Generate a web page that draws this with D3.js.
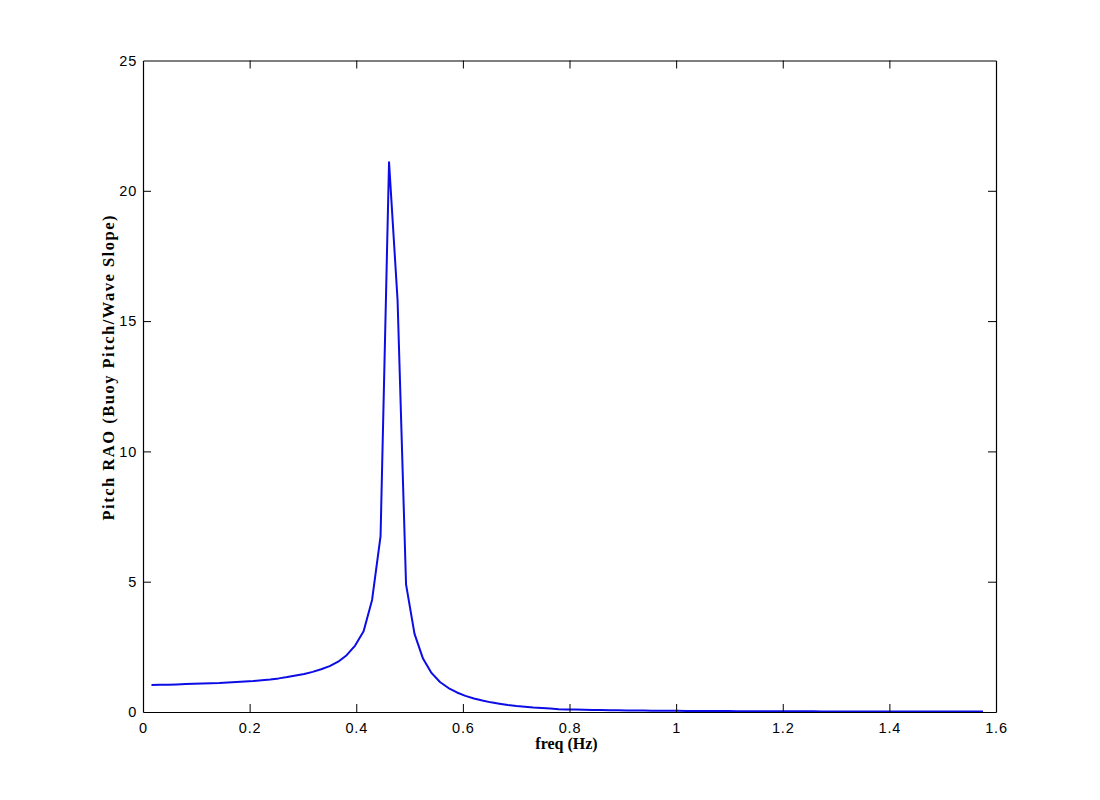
<!DOCTYPE html>
<html>
<head>
<meta charset="utf-8">
<script src="https://cdn.jsdelivr.net/npm/d3@7"></script>
<style>
  html, body { margin: 0; padding: 0; background: #fff; }
  svg { display: block; }
</style>
</head>
<body>
<svg id="chart" width="1100" height="800"></svg>
<script>
// ---- data ----
const freqHz = [
  0.0159,0.0318,0.0477,0.0637,0.0796,0.0955,0.1114,0.1273,0.1432,0.1592,
  0.1751,0.1910,0.2069,0.2228,0.2387,0.2546,0.2706,0.2865,0.3024,0.3183,
  0.3342,0.3501,0.3661,0.3820,0.3979,0.4138,0.4297,0.4456,0.4615,0.4775,
  0.4934,0.5093,0.5252,0.5411,0.5570,0.5730,0.5889,0.6048,0.6207,0.6366,
  0.6525,0.6685,0.6844,0.7003,0.7162,0.7321,0.7480,0.7639,0.7799,0.7958,
  0.8117,0.8276,0.8435,0.8594,0.8754,0.8913,0.9072,0.9231,0.9390,0.9549,
  0.9708,0.9868,1.0027,1.0186,1.0345,1.0504,1.0663,1.0823,1.0982,1.1141,
  1.1300,1.1459,1.1618,1.1777,1.1937,1.2096,1.2255,1.2414,1.2573,1.2732,
  1.2892,1.3051,1.3210,1.3369,1.3528,1.3687,1.3846,1.4006,1.4165,1.4324,
  1.4483,1.4642,1.4801,1.4961,1.5120,1.5279,1.5438,1.5597,1.5756
];
const pitchRAO = [
  1.040,1.045,1.050,1.060,1.070,1.080,1.090,1.100,1.110,1.130,
  1.150,1.170,1.190,1.220,1.250,1.290,1.340,1.400,1.460,1.540,
  1.640,1.760,1.930,2.180,2.550,3.100,4.300,6.750,21.10,15.80,
  4.900,3.000,2.050,1.500,1.150,0.920,0.750,0.620,0.520,0.440,
  0.370,0.320,0.270,0.230,0.200,0.170,0.150,0.130,0.110,0.100,
  0.093,0.086,0.080,0.075,0.070,0.066,0.062,0.058,0.055,0.052,
  0.049,0.047,0.045,0.043,0.041,0.039,0.037,0.036,0.034,0.033,
  0.032,0.031,0.030,0.029,0.028,0.027,0.026,0.025,0.025,0.024,
  0.023,0.023,0.022,0.021,0.021,0.020,0.020,0.019,0.019,0.018,
  0.018,0.017,0.017,0.017,0.016,0.016,0.015,0.015,0.015
];
const xTicks = [0, 0.2, 0.4, 0.6, 0.8, 1, 1.2, 1.4, 1.6];
const yTicks = [0, 5, 10, 15, 20, 25];
const xLabel = "freq (Hz)";
const yLabel = "Pitch RAO (Buoy Pitch/Wave Slope)";

(function () {
  // ---- layout ----
  const L = 143, R = 996, T = 60.5, B = 712;
  const svg = d3.select("#chart");
  const x = d3.scaleLinear().domain([0, 1.6]).range([L, R]);
  const y = d3.scaleLinear().domain([0, 25]).range([B, T]);
  const tickLen = 8;
  const tickFont = "'Liberation Sans', Arial, sans-serif";
  const labelFont = "'Liberation Serif', 'Times New Roman', serif";

  // curve
  const pts = freqHz.map((f, i) => [f, pitchRAO[i]]);
  svg.append("path")
    .datum(pts)
    .attr("fill", "none")
    .attr("stroke", "#0c0ce6")
    .attr("stroke-width", 2)
    .attr("stroke-linejoin", "round")
    .attr("d", d3.line().x(d => x(d[0])).y(d => y(d[1])));

  // axes (MATLAB box style, inward ticks on all sides)
  const fmt = d => String(d);
  const gBottom = svg.append("g").attr("transform", `translate(0,${B})`)
    .call(d3.axisBottom(x).tickValues(xTicks).tickFormat(fmt).tickSizeInner(-tickLen).tickSizeOuter(0).tickPadding(11));
  const gTop = svg.append("g").attr("transform", `translate(0,${T})`)
    .call(d3.axisTop(x).tickValues(xTicks).tickFormat("").tickSizeInner(-tickLen).tickSizeOuter(0));
  const gLeft = svg.append("g").attr("transform", `translate(${L},0)`)
    .call(d3.axisLeft(y).tickValues(yTicks).tickFormat(fmt).tickSizeInner(-tickLen).tickSizeOuter(0).tickPadding(6));
  const gRight = svg.append("g").attr("transform", `translate(${R},0)`)
    .call(d3.axisRight(y).tickValues(yTicks).tickFormat("").tickSizeInner(-tickLen).tickSizeOuter(0));

  [gBottom, gTop, gLeft, gRight].forEach(g => {
    g.selectAll(".domain").attr("stroke", "#000").attr("stroke-width", 1.2);
    g.selectAll(".tick line").attr("stroke", "#000").attr("stroke-width", 1);
    g.selectAll(".tick text")
      .attr("fill", "#000")
      .style("font-family", tickFont)
      .style("font-size", "14.5px")
      .style("letter-spacing", "0.8px");
  });
  gBottom.selectAll(".tick line").filter(d => d === 0 || d === 1.6).remove();
  gTop.selectAll(".tick line").filter(d => d === 0 || d === 1.6).remove();
  gLeft.selectAll(".tick line").filter(d => d === 0 || d === 25).remove();
  gRight.selectAll(".tick line").filter(d => d === 0 || d === 25).remove();

  // axis labels
  svg.append("text")
    .attr("x", (L + R) / 2 - 3)
    .attr("y", 749)
    .attr("text-anchor", "middle")
    .style("font-family", labelFont)
    .style("font-weight", "bold")
    .style("font-size", "16px")
    .text(xLabel);

  svg.append("text")
    .attr("transform", `translate(114,368) rotate(-90)`)
    .attr("text-anchor", "middle")
    .attr("textLength", 305)
    .attr("lengthAdjust", "spacing")
    .style("font-family", labelFont)
    .style("font-weight", "bold")
    .style("font-size", "16.5px")
    .text(yLabel);
})();
</script>
</body>
</html>
